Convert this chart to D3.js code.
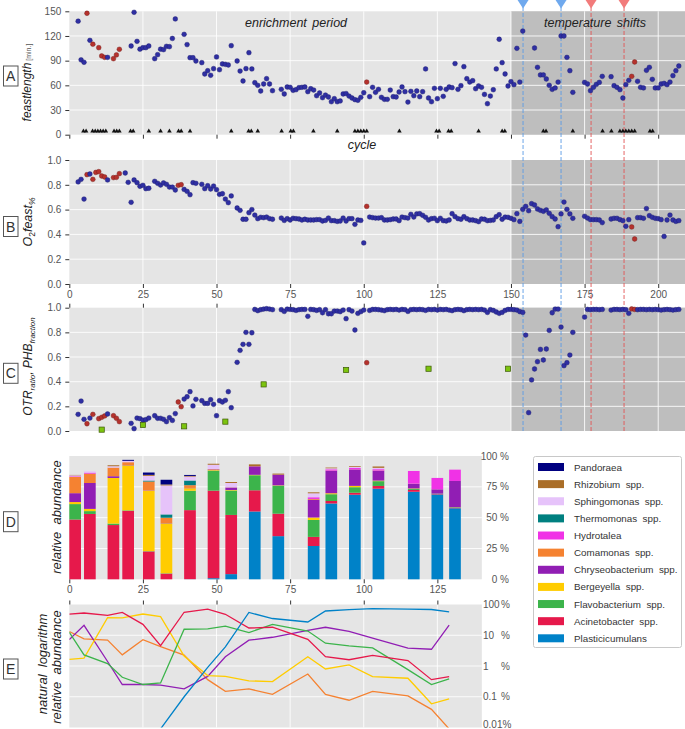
<!DOCTYPE html>
<html><head><meta charset="utf-8">
<script src="https://cdn.jsdelivr.net/npm/d3@7"></script>
<style>body{margin:0;background:#fff}svg{display:block}text{font-family:"Liberation Sans",Arial,sans-serif}</style>
</head><body><svg id="c" width="685" height="729"></svg>
<script>
// ---------------- DATA ----------------
const feastLength = [[3,138],[4,91],[5,88],[6,147.6],[7,114.7],[8,110],[10,105.8],[11,95.7],[12,94],[13,94],[15,92.4],[16,97],[17,103.8],[21,107.8],[22,148.8],[23,113.5],[24,104],[25,105.8],[26,105.8],[27,107.8],[29,92.4],[30,97.3],[31,104],[32,103.4],[33,107.4],[34,107],[35,117],[36,140.7],[39,122],[40,109.5],[41,93.6],[42,93.6],[43,89.6],[45,87.6],[46,73.8],[47,77.8],[48,72.2],[49,80.3],[50,94.5],[51,79],[52,86],[53,85.5],[54,84.7],[55,108.2],[57,89.6],[58,77.4],[59,65.3],[60,80.3],[61,99.7],[62,79.9],[63,63.2],[64,60],[65,53.1],[66,61.6],[67,68.1],[68,61.6],[69,53.5],[72,55.1],[73,49.5],[74,58],[75,57.6],[76,53.9],[77,54.7],[78,57.2],[79,57.6],[80,58],[81,52.3],[82,55.9],[83,54.3],[84,47.4],[85,50.7],[86,45],[87,48.2],[88,45.8],[89,40.1],[90,43.8],[91,40.1],[92,41],[93,49.5],[94,50],[95,47],[96,44.6],[97,42.6],[98,41.8],[99,45.4],[100,51],[101,64],[102,46.2],[103,57.6],[104,51.5],[105,55.1],[106,45.4],[107,43],[108,43],[109,54.3],[110,46.2],[111,45.8],[112,51.9],[113,58],[114,52.3],[115,39.7],[116,52.7],[117,47.4],[118,53.1],[119,46.2],[120,52.3],[121,79.9],[122,44.6],[123,40.1],[124,56.4],[125,43.8],[126,56.4],[127,46.6],[128,55.1],[129,58],[130,57.2],[131,86.4],[132,55.1],[133,59.6],[134,82.7],[135,68.1],[136,64],[137,65.7],[138,55.9],[139,59.2],[140,57.6],[141,49],[142,37.7],[143,47],[144,54.7],[145,79.9],[146,116],[147,87.6],[148,73.8],[149,59.2],[150,64.5],[151,60.8],[152,105],[153,64],[154,126],[158,105.4],[159,81.9],[160,72.6],[161,72.6],[162,67.7],[163,60],[164,55.1],[165,56.8],[166,64],[167,120],[168,120],[169,94],[170,77.8],[171,51.5],[175,63.6],[176,61.6],[177,53.5],[178,57.6],[179,61.2],[180,63.6],[181,70.9],[184,70.5],[185,59.6],[186,57.6],[187,54.7],[188,44.6],[189,60.8],[190,66.1],[191,70.9],[192,88.4],[193,64.9],[194,57.6],[195,56.8],[196,78.2],[197,81.9],[198,67.3],[199,56.8],[200,56.8],[201,61.6],[202,62.4],[203,60.8],[204,64],[205,71.8],[206,77.8],[207,83.5]];

const eventCycles = [4.8,5.7,7.9,8.8,9.7,10.6,11.5,12.4,15.2,16.1,17,20.8,21.7,27,31,34,37.1,38,41,55,60.9,61.8,64,72.1,75.2,76.1,82.9,91,97,98,99,100,101,112.1,124.7,125.6,128.8,129.7,139,147,147.9,161,161.9,171,181.1,184.1,187,188,189,190,191,192,197.2,198.1];

const o2Feast = [[3,.823],[4,.844],[5,.685],[6,.882],[7,.887],[8,.844],[9,.90],[10,.906],[11,.871],[12,.863],[13,.839],[15,.858],[16,.86],[17,.89],[19,.895],[20,.82],[21,.659],[22,.839],[23,.817],[24,.788],[25,.796],[26,.769],[27,.772],[29,.828],[30,.812],[31,.798],[32,.815],[33,.804],[34,.782],[35,.782],[36,.758],[37,.796],[38,.801],[39,.763],[40,.747],[41,.72],[42,.817],[43,.812],[45,.804],[46,.769],[47,.793],[48,.766],[49,.79],[50,.761],[51,.723],[52,.728],[53,.685],[54,.656],[55,.71],[57,.613],[58,.594],[59,.522],[60,.522],[61,.575],[62,.6],[63,.556],[64,.527],[65,.538],[66,.535],[67,.54],[68,.527],[69,.522],[72,.532],[73,.513],[74,.527],[75,.516],[76,.53],[77,.527],[78,.524],[79,.516],[80,.522],[81,.516],[82,.516],[83,.516],[84,.519],[85,.519],[86,.508],[87,.513],[88,.532],[89,.511],[90,.511],[91,.505],[92,.508],[93,.532],[94,.508],[95,.527],[96,.527],[97,.481],[98,.516],[99,.513],[100,.331],[101,.626],[102,.54],[103,.535],[104,.532],[105,.532],[106,.535],[107,.516],[108,.516],[109,.519],[110,.524],[111,.524],[112,.511],[113,.54],[114,.535],[115,.532],[116,.562],[117,.54],[118,.565],[119,.567],[120,.554],[121,.538],[122,.516],[123,.527],[124,.53],[125,.511],[126,.53],[127,.511],[128,.508],[129,.516],[130,.567],[131,.543],[132,.527],[133,.522],[134,.543],[135,.527],[136,.516],[137,.516],[138,.511],[139,.503],[140,.524],[141,.522],[142,.511],[143,.513],[144,.516],[145,.543],[146,.559],[147,.522],[148,.54],[149,.538],[150,.53],[151,.519],[152,.567],[153,.505],[154,.602],[155,.626],[156,.591],[157,.648],[158,.637],[159,.605],[160,.594],[161,.586],[162,.597],[163,.57],[164,.543],[165,.524],[166,.462],[167,.565],[168,.661],[169,.602],[170,.565],[171,.53],[175,.546],[176,.532],[177,.519],[178,.519],[179,.519],[180,.516],[181,.495],[184,.524],[185,.53],[186,.53],[187,.519],[188,.511],[189,.465],[190,.519],[191,.46],[192,.363],[193,.535],[194,.535],[195,.53],[196,.608],[197,.551],[198,.538],[199,.53],[200,.527],[201,.519],[202,.384],[203,.516],[204,.556],[205,.516],[206,.505],[207,.511]];

const otrRatio = [[3,.135],[4,.243],[5,.095],[6,.059],[7,.105],[8,.135],[10,.1],[11,.111],[12,.122],[13,.138],[15,.124],[16,.103],[17,.076],[21,.062],[22,.019],[23,.105],[24,.1],[25,.089],[26,.092],[27,.105],[29,.124],[30,.103],[31,.103],[32,.095],[33,.076],[34,.108],[35,.086],[36,.141],[37,.235],[38,.197],[39,.259],[40,.278],[41,.319],[42,.203],[43,.257],[45,.246],[46,.224],[47,.224],[48,.254],[49,.216],[50,.124],[51,.246],[52,.235],[53,.249],[54,.319],[55,.189],[57,.557],[58,.654],[59,.703],[60,.8],[61,.703],[62,.797],[63,.986],[64,.976],[65,.984],[66,.989],[67,.992],[68,.989],[69,.984],[72,.984],[73,.97],[74,.989],[75,.986],[76,.984],[77,.978],[78,.984],[79,.986],[80,.986],[81,.93],[82,.986],[83,.984],[84,.978],[85,.984],[86,.959],[87,.984],[88,.951],[89,.951],[90,.973],[91,.973],[92,.968],[93,.981],[94,.911],[95,.984],[96,.973],[97,.819],[98,.954],[99,.968],[100,.981],[101,.554],[102,.978],[103,.986],[104,.986],[105,.984],[106,.981],[107,.976],[108,.984],[109,.986],[110,.984],[111,.986],[112,.981],[113,.986],[114,.984],[115,.97],[116,.984],[117,.986],[118,.984],[119,.986],[120,.984],[121,.978],[122,.986],[123,.984],[124,.986],[125,.981],[126,.986],[127,.984],[128,.986],[129,.981],[130,.976],[131,.984],[132,.986],[133,.984],[134,.976],[135,.984],[136,.986],[137,.984],[138,.986],[139,.984],[140,.986],[141,.981],[142,.962],[143,.984],[144,.978],[145,.965],[146,.954],[147,.962],[148,.978],[149,.986],[150,.986],[151,.984],[152,.981],[153,.968],[154,.962],[155,.778],[156,.149],[157,.414],[158,.503],[159,.562],[160,.662],[161,.576],[162,.665],[163,.816],[164,.959],[165,.989],[166,.989],[167,.843],[168,.53],[169,.554],[170,.616],[171,.8],[175,.924],[176,.986],[177,.984],[178,.986],[179,.986],[180,.984],[181,.986],[184,.981],[185,.986],[186,.986],[187,.984],[188,.986],[189,.984],[190,.954],[191,.99],[192,.986],[193,.984],[194,.986],[195,.986],[196,.984],[197,.986],[198,.984],[199,.986],[200,.984],[201,.981],[202,.984],[203,.986],[204,.984],[205,.981],[206,.984],[207,.986]];

const phbFraction = [[11,.011],[25,.049],[39,.038],[53,.076],[66,.378],[94,.495],[122,.505],[149,.505]];

const flaggedCycles = [6,8,9,10,11,12,15,16,17,37,38,101,191,192];

const coolShifts = [154.1,167];
const heatShifts = [177.2,188.4];
const enrichmentEnd = 150;

const sampleCycles = [0,5,13,18,25,31,39,47,53,61,69,81,87,95,103,115,123,129];
const plasticicumulans = [null,null,null,null,null,0.009,0.1,0.9,4.2,55,35,27,61.5,68.6,73.5,71,68.8,57.6];
const acinetobacter    = [48.5,53,44,55.5,22.6,4.6,56,71,48,17.2,18.2,7.4,2.0,1.6,2.2,1.5,0.36,0.45];
const flavobacterium   = [12.5,2.3,1.2,0.43,0.25,0.28,15.7,16.2,19.8,12.2,22.7,13.7,5.5,4.5,3.9,0.76,0.25,0.38];
const bergeyella       = [1.65,1.8,37,36.5,49,40.5,2.1,0.49,0.46,0.33,0.31,2.0,0.8,1.08,0.45,0.4,0.059,0.085];
const chryseobacterium = [7.2,21,1.4,0.25,0.25,0.24,0.18,0.46,2.0,6.9,8.6,14.5,18.2,13.3,8.0,3.8,3.5,21.2];
const comamonas        = [13.2,7.6,7.0,2.3,7.2,4.3,2.25,0.36,0.15,0.18,0.12,0.55,0.12,0.077,0.15,0.107,0.039,0.009];
const hydrotalea       = [0.5,0.8,0,0,0,0,0,0,0,0,0,1.4,1.1,1.1,1.1,10.3,9.2,9.2];
const thermomonas      = [0,0,0,0,0.8,2.7,3.8,0,0,0,0,0,0,0,0,0,0,0];
const sphingomonas     = [0.8,1.1,1.1,1.1,3.8,23.5,3.2,3.5,3.5,0,0,3.2,0.8,1.0,1.1,0,0,0];
const rhizobium        = [0.3,0,0.8,0,0.8,0.8,0.5,0.8,0.8,1.4,0.8,0.8,0.6,0.6,1.1,0,0,0];
const pandoraea        = [0,0,0,0.8,1.9,3.8,0.8,0,0,0,0,0,0,0,0,0,0,0];

const taxaNames = ["Pandoraea","Rhizobium  spp.","Sphingomonas  spp.","Thermomonas  spp.","Hydrotalea","Comamonas  spp.","Chryseobacterium  spp.","Bergeyella  spp.","Flavobacterium  spp.","Acinetobacter  spp.","Plasticicumulans"];
const taxaValues = [pandoraea,rhizobium,sphingomonas,thermomonas,hydrotalea,comamonas,chryseobacterium,bergeyella,flavobacterium,acinetobacter,plasticicumulans];
const logTaxa = [5,6,7,8,9,10]; // indices into taxa shown in panel E

const yTicksA = [0,30,60,90,120,150];
const yTicksBC = [0,0.2,0.4,0.6,0.8,1.0];
const xTicks = [0,25,50,75,100,125,150,175,200];
const xTicksDE = [0,25,50,75,100,125];
const yTicksD = [0,25,50,75,100];
const yTicksE = [100,10,1,0.1];
const yLabelsE = ["100","10","1","0.1"];
const yLabelBottomE = "0.01%";

// ---------------- STYLE ----------------
const taxaColors = ["#000080","#aa6e28","#e6c3fa","#008080","#f032e6","#f58231","#911eb4","#ffcc00","#3cb44b","#e6194b","#0082c8"];
const BLUE="#2f2fa3", RED="#b5322d";

const svg=d3.select('#c');
const x=d3.scaleLinear().domain([0,209.1]).range([69.3,685]);
const xEndDE=140.1;
const yA=d3.scaleLinear().domain([0,150]).range([134.7,11.3]);
const yB=d3.scaleLinear().domain([0,1]).range([284,160]);
const yC=d3.scaleLinear().domain([0,1]).range([431,307.7]);
const yD=d3.scaleLinear().domain([0,100]).range([579.3,456]);
const yE=d3.scaleLog().domain([0.01,100]).range([727.5,604.5]);
const flagged=new Set(flaggedCycles);

function panel(y, xmax, shaded, gx, gy){
  const [yb,yt]=y.range();
  const g=svg.append('g');
  g.append('rect').attr('x',x(0)).attr('y',yt).attr('width',x(xmax)-x(0)).attr('height',yb-yt).attr('fill','#e5e5e5');
  if(shaded) g.append('rect').attr('x',x(enrichmentEnd)).attr('y',yt).attr('width',x(xmax)-x(enrichmentEnd)).attr('height',yb-yt).attr('fill','#bebebe');
  g.selectAll('.gx').data(gx.filter(v=>v>0&&v<xmax)).join('line').attr('x1',d=>x(d)).attr('x2',d=>x(d)).attr('y1',yt).attr('y2',yb).attr('stroke','#fff').attr('stroke-opacity',.85).attr('stroke-width',1);
  g.selectAll('.gy').data(gy).join('line').attr('x1',x(0)).attr('x2',x(xmax)).attr('y1',d=>y(d)).attr('y2',d=>y(d)).attr('stroke','#fff').attr('stroke-opacity',.85).attr('stroke-width',1);
}
function styleAxis(g){
  g.select('.domain').remove();
  g.selectAll('line').attr('stroke','#333');
  g.selectAll('text').attr('fill','#555').style('font-size','10px').style('font-family','"Liberation Sans",Arial,sans-serif');
}

panel(yA,209.1,true,xTicks,[30,60,90,120]);
panel(yB,209.1,true,xTicks,[0.2,0.4,0.6,0.8]);
panel(yC,209.1,true,xTicks,[0.2,0.4,0.6,0.8]);
panel(yD,xEndDE,false,xTicksDE,[25,50,75]);
panel(yE,xEndDE,false,xTicksDE,[10,1,0.1]);

// axes
svg.append('g').attr('transform','translate(69.3,0)').call(d3.axisLeft(yA).tickValues(yTicksA).tickSize(4).tickPadding(4)).call(styleAxis);
svg.append('g').attr('transform','translate(0,134.7)').call(d3.axisBottom(x).tickValues(xTicks).tickSize(4).tickFormat('')).call(styleAxis);
svg.append('g').attr('transform','translate(69.3,0)').call(d3.axisLeft(yB).tickValues(yTicksBC).tickSize(4).tickPadding(4).tickFormat(d3.format('.1f'))).call(styleAxis);
svg.append('g').attr('transform','translate(0,284)').call(d3.axisBottom(x).tickValues(xTicks).tickSize(4).tickPadding(3)).call(styleAxis);
svg.append('g').attr('transform','translate(69.3,0)').call(d3.axisLeft(yC).tickValues(yTicksBC).tickSize(4).tickPadding(4).tickFormat(d3.format('.1f'))).call(styleAxis);
svg.append('g').attr('transform','translate(0,307.7)').call(d3.axisTop(x).tickValues(xTicks).tickSize(4).tickFormat('')).call(styleAxis);
svg.append('g').attr('transform','translate(0,579.3)').call(d3.axisBottom(x).tickValues(xTicksDE).tickSize(4).tickPadding(3)).call(styleAxis);
svg.append('g').attr('transform','translate(0,604.5)').call(d3.axisTop(x).tickValues(xTicksDE).tickSize(4).tickFormat('')).call(styleAxis);

// right labels D, E
const tstyle=s=>s.attr('fill','#555').style('font-size','10px');
svg.append('g').selectAll('text').data(yTicksD).join('text').attr('x',509).attr('y',d=>yD(d)+3.5).attr('text-anchor','end').text(d=>d+' %').call(tstyle);
const eg=svg.append('g');
eg.selectAll('text.n').data(yTicksE).join('text').attr('x',483).attr('y',d=>yE(d)+3.5).text((d,i)=>yLabelsE[i]).call(tstyle);
eg.selectAll('text.p').data(yTicksE).join('text').attr('x',510).attr('y',d=>yE(d)+3.5).attr('text-anchor','end').text('%').call(tstyle);
eg.append('text').attr('x',483).attr('y',727.5).text(yLabelBottomE).call(tstyle);

// shift markers
const shifts=[...coolShifts.map(c=>({c,col:'#5b9be6',tri:'#6fa9ee'})),...heatShifts.map(c=>({c,col:'#e25555',tri:'#f27b7b'}))];
const sg=svg.append('g');
sg.selectAll('line').data(shifts).join('line').attr('x1',d=>x(d.c)).attr('x2',d=>x(d.c)).attr('y1',7).attr('y2',431)
  .attr('stroke',d=>d.col).attr('stroke-width',1).attr('stroke-dasharray','4,2').attr('stroke-opacity',.9);
sg.selectAll('path').data(shifts).join('path').attr('d',d=>`M${x(d.c)-5.5},0L${x(d.c)+5.5},0L${x(d.c)},8.5Z`).attr('fill',d=>d.tri);

// dots
function dots(data,y){
  svg.append('g').selectAll('circle').data(data).join('circle')
    .attr('cx',d=>x(d[0])).attr('cy',d=>y(d[1])).attr('r',2.4)
    .attr('fill',d=>flagged.has(d[0])?RED:BLUE)
    .attr('stroke',d=>flagged.has(d[0])?'#6e1a17':'#1b1b6a').attr('stroke-width',.4);
}
dots(feastLength,yA); dots(o2Feast,yB); dots(otrRatio,yC);
svg.append('g').selectAll('path').data(eventCycles).join('path')
  .attr('transform',d=>`translate(${x(d)},${yA(4.3)})`).attr('d',d3.symbol(d3.symbolTriangle,9)).attr('fill','#111');
svg.append('g').selectAll('rect').data(phbFraction).join('rect')
  .attr('x',d=>x(d[0])-2.6).attr('y',d=>yC(d[1])-2.6).attr('width',5.2).attr('height',5.2)
  .attr('fill','#7cc40e').attr('stroke','#3d5a08').attr('stroke-width',.7);

// D stacked bars
const rows=sampleCycles.map((c,i)=>{const r={c};taxaValues.forEach((v,k)=>r[k]=v[i]||0);return r;});
const keys=d3.range(taxaValues.length).reverse();
const stacked=d3.stack().keys(keys)(rows);
const bw=x(3.97)-x(0);
svg.append('g').selectAll('g').data(stacked).join('g').attr('fill',s=>taxaColors[s.key])
  .selectAll('rect').data(s=>s).join('rect')
  .attr('x',d=>x(d.data.c)).attr('width',bw).attr('y',d=>yD(d[1])).attr('height',d=>Math.max(0,yD(d[0])-yD(d[1])));

// E log lines
svg.append('clipPath').attr('id','clipE').append('rect').attr('x',x(0)).attr('y',604.5).attr('width',x(xEndDE)-x(0)).attr('height',123);
const line=d3.line().defined(d=>d[1]!=null&&d[1]>0).x(d=>x(d[0])).y(d=>yE(d[1]));
svg.append('g').attr('clip-path','url(#clipE)').selectAll('path').data(logTaxa).join('path')
  .attr('d',k=>line(sampleCycles.map((c,i)=>[c,taxaValues[k][i]]))).attr('fill','none')
  .attr('stroke',k=>taxaColors[k]).attr('stroke-width',1.3);

// legend
const lg=svg.append('g');
lg.append('rect').attr('x',533.5).attr('y',456.5).attr('width',148).attr('height',191).attr('rx',2).attr('fill','#fff').attr('stroke','#c8c8c8');
taxaNames.forEach((n,i)=>{
  const yy=467+i*17.13;
  lg.append('rect').attr('x',538).attr('y',yy-4).attr('width',26).attr('height',8).attr('fill',taxaColors[i]);
  lg.append('text').attr('x',574).attr('y',yy+3.5).text(n).attr('fill','#333').style('font-size','9.8px').style('white-space','pre');
});

// annotations
const it=(t,xx,yy,sz)=>svg.append('text').attr('x',xx).attr('y',yy).text(t).attr('fill','#222').style('font-style','italic').style('font-size',sz+'px');
it('enrichment period',245,27,12.5).style('word-spacing','2px');
it('temperature shifts',544,27,12.5).style('word-spacing','2px');
it('cycle',362,149,12.5).attr('text-anchor','middle');

// y titles
function ytitle(xx,yy){return svg.append('text').attr('transform',`translate(${xx},${yy}) rotate(-90)`).attr('text-anchor','middle').attr('fill','#222').style('font-style','italic').style('font-size','12.5px');}
let t=ytitle(31,82.5); t.append('tspan').text('feastlength').style('font-size','12px'); t.append('tspan').text(' [min.]').style('font-size','7px').style('font-style','normal').attr('fill','#555');
t=ytitle(32,222); t.append('tspan').text('O'); t.append('tspan').text('2').style('font-size','8.5px').style('font-style','normal').attr('dy',3); t.append('tspan').text('feast').attr('dy',-3); t.append('tspan').text('%').style('font-size','8.5px').attr('dy',3);
t=ytitle(32,366.5).style('font-size','12px'); t.append('tspan').text('OTR'); t.append('tspan').text('ratio').style('font-size','8px').attr('dy',3); t.append('tspan').text(', PHB').attr('dy',-3); t.append('tspan').text('fraction').style('font-size','8px').attr('dy',3);
t=ytitle(61,517); t.text('relative  abundance').style('font-size','13px').style('white-space','pre');
t=ytitle(47,664); t.text('natural  logarithm').style('font-size','13px').style('white-space','pre');
t=ytitle(61,667); t.text('relative  abundance').style('font-size','13px').style('white-space','pre');

// panel labels
[['A',66],['B',216.5],['C',363.3],['D',511.7],['E',659]].forEach(([l,yy])=>{
  svg.append('rect').attr('x',3.5).attr('y',yy).attr('width',14.5).attr('height',20).attr('fill','#fff').attr('stroke','#555').attr('stroke-width',1);
  svg.append('text').attr('x',10.75).attr('y',yy+15).attr('text-anchor','middle').text(l).attr('fill','#333').style('font-size','14px');
});
</script></body></html>
